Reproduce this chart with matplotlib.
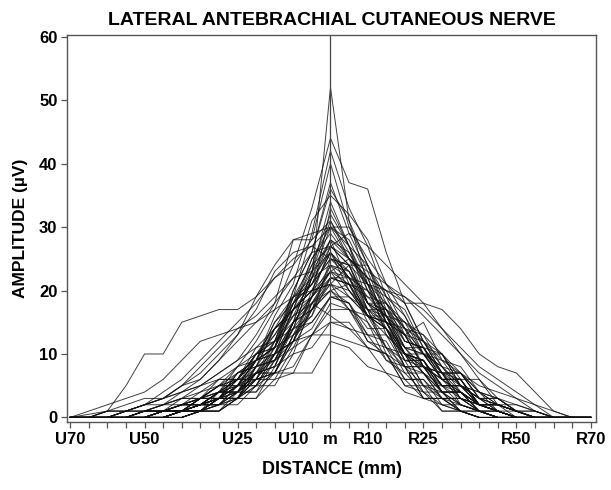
import numpy as np
import matplotlib
matplotlib.use("Agg")
import matplotlib.pyplot as plt

plt.rcParams['font.family'] = ['Liberation Sans', 'DejaVu Sans']
plt.rcParams['font.weight'] = 'bold'

# recording sites, mm from the midpoint (negative = ulnar side)
distance_mm = list(range(-70, 75, 5))

tick_pos = [-70, -50, -25, -10, 0, 10, 25, 50, 70]
tick_names = ['U70', 'U50', 'U25', 'U10', 'm', 'R10', 'R25', 'R50', 'R70']

# amplitude (uV) per subject at each site
amp_01 = [0, 0, 0, 0, 0, 0, 1, 2, 3, 5, 7, 10, 14, 22, 52, 31, 21, 15, 10, 7, 4, 2, 1, 0, 0, 0, 0, 0, 0]
amp_02 = [0, 0, 0, 0, 0, 1, 2, 3, 5, 8, 12, 17, 24, 33, 44, 37, 36, 26, 18, 12, 8, 5, 3, 1, 0, 0, 0, 0, 0]
amp_03 = [0, 0, 0, 0, 0, 1, 1, 3, 5, 7, 9, 15, 19, 29, 42, 33, 27, 19, 16, 10, 8, 4, 2, 1, 0, 0, 0, 0, 0]
amp_04 = [0, 0, 0, 0, 1, 2, 3, 5, 7, 9, 13, 18, 28, 28, 40, 30, 24, 18, 14, 10, 7, 5, 3, 2, 1, 0, 0, 0, 0]
amp_05 = [0, 0, 0, 0, 0, 1, 1, 2, 4, 6, 10, 12, 20, 26, 37, 29, 23, 16, 13, 8, 6, 4, 2, 1, 0, 0, 0, 0, 0]
amp_06 = [0, 0, 0, 0, 1, 1, 2, 3, 4, 7, 9, 16, 21, 31, 35, 32, 28, 21, 18, 12, 10, 5, 3, 1, 0, 0, 0, 0, 0]
amp_07 = [0, 0, 1, 5, 10, 10, 15, 16, 17, 17, 19, 22, 24, 28, 31, 25, 22, 20, 19, 17, 14, 11, 8, 6, 4, 2, 0, 0, 0]
amp_08 = [0, 0, 0, 0, 1, 1, 2, 4, 5, 6, 10, 12, 19, 21, 27, 25, 21, 20, 18, 18, 17, 14, 10, 8, 7, 4, 1, 0, 0]
amp_09 = [0, 0, 0, 0, 0, 0, 1, 1, 3, 4, 7, 8, 15, 19, 33, 27, 21, 13, 10, 5, 4, 1, 1, 0, 0, 0, 0, 0, 0]
amp_10 = [0, 0, 0, 1, 1, 2, 2, 3, 4, 6, 7, 12, 14, 22, 30, 25, 22, 15, 13, 8, 7, 3, 2, 1, 0, 0, 0, 0, 0]
amp_11 = [0, 0, 0, 0, 0, 0, 1, 1, 2, 3, 5, 7, 7, 7, 12, 11, 8, 7, 4, 3, 2, 1, 0, 0, 0, 0, 0, 0, 0]
amp_12 = [0, 0, 0, 0, 0, 1, 1, 2, 2, 4, 4, 7, 8, 13, 13, 12, 11, 7, 6, 3, 3, 1, 0, 0, 0, 0, 0, 0, 0]
amp_13 = [0, 0, 0, 0, 1, 1, 2, 3, 5, 6, 9, 10, 17, 20, 21, 24, 18, 17, 12, 11, 7, 7, 4, 3, 2, 1, 0, 0, 0]
amp_14 = [0, 0, 1, 1, 2, 3, 5, 8, 11, 14, 16, 19, 22, 23, 26, 22, 21, 16, 15, 10, 9, 5, 4, 2, 1, 0, 0, 0, 0]
amp_15 = [0, 0, 0, 0, 0, 1, 1, 2, 4, 4, 8, 9, 15, 17, 22, 21, 16, 15, 10, 10, 6, 6, 2, 1, 0, 0, 0, 0, 0]
amp_16 = [0, 0, 0, 0, 0, 0, 1, 2, 2, 5, 5, 10, 12, 18, 20, 17, 16, 11, 10, 5, 5, 2, 1, 0, 0, 0, 0, 0, 0]
amp_17 = [0, 0, 1, 1, 2, 3, 4, 5, 6, 8, 10, 13, 17, 21, 25, 24, 21, 18, 15, 12, 9, 7, 5, 4, 3, 2, 1, 0, 0]
amp_18 = [0, 0, 0, 0, 0, 0, 0, 1, 1, 3, 6, 7, 13, 17, 24, 20, 17, 10, 8, 3, 3, 1, 0, 0, 0, 0, 0, 0, 0]
amp_19 = [0, 0, 0, 0, 1, 1, 2, 2, 4, 5, 9, 11, 18, 22, 28, 26, 21, 19, 13, 12, 7, 7, 3, 2, 1, 0, 0, 0, 0]
amp_20 = [0, 0, 0, 0, 0, 1, 1, 3, 4, 8, 9, 15, 18, 25, 29, 25, 22, 15, 13, 8, 7, 3, 2, 1, 0, 0, 0, 0, 0]
amp_21 = [0, 0, 0, 0, 0, 0, 1, 1, 3, 3, 8, 10, 17, 20, 26, 23, 17, 15, 10, 9, 4, 4, 1, 0, 0, 0, 0, 0, 0]
amp_22 = [0, 0, 0, 0, 0, 1, 2, 2, 4, 4, 7, 7, 12, 14, 19, 18, 14, 14, 9, 9, 5, 5, 2, 1, 0, 0, 0, 0, 0]
amp_23 = [0, 0, 0, 1, 2, 3, 5, 6, 9, 12, 15, 18, 22, 26, 27, 24, 24, 19, 17, 11, 10, 5, 4, 1, 0, 0, 0, 0, 0]
amp_24 = [0, 0, 0, 0, 0, 0, 1, 1, 4, 4, 9, 11, 18, 21, 25, 24, 18, 16, 11, 10, 6, 6, 2, 2, 1, 0, 0, 0, 0]
amp_25 = [0, 0, 0, 0, 0, 0, 1, 2, 2, 5, 5, 10, 12, 19, 23, 19, 17, 11, 9, 4, 4, 1, 1, 0, 0, 0, 0, 0, 0]
amp_26 = [0, 0, 0, 1, 1, 2, 3, 4, 6, 6, 10, 11, 16, 18, 22, 21, 17, 17, 13, 15, 9, 8, 4, 3, 1, 1, 0, 0, 0]
amp_27 = [0, 0, 0, 0, 0, 0, 0, 1, 1, 3, 3, 8, 10, 18, 21, 17, 15, 9, 8, 3, 3, 1, 0, 0, 0, 0, 0, 0, 0]
amp_28 = [0, 0, 0, 0, 0, 1, 1, 3, 3, 7, 8, 14, 16, 22, 24, 23, 19, 18, 12, 11, 6, 6, 2, 1, 0, 0, 0, 0, 0]
amp_29 = [0, 0, 0, 0, 1, 1, 2, 2, 3, 4, 6, 7, 12, 13, 17, 17, 13, 13, 8, 8, 4, 4, 1, 1, 0, 0, 0, 0, 0]
amp_30 = [0, 0, 0, 1, 2, 3, 5, 7, 10, 13, 17, 23, 26, 27, 30, 28, 22, 20, 14, 12, 7, 6, 2, 2, 0, 0, 0, 0, 0]
amp_31 = [0, 0, 0, 0, 0, 0, 1, 2, 4, 5, 9, 11, 19, 24, 32, 27, 24, 17, 14, 8, 7, 2, 1, 0, 0, 0, 0, 0, 0]
amp_32 = [0, 0, 0, 0, 0, 1, 1, 2, 3, 3, 6, 7, 13, 15, 19, 18, 13, 12, 7, 7, 3, 3, 1, 1, 0, 0, 0, 0, 0]
amp_33 = [0, 0, 1, 1, 2, 2, 3, 3, 5, 5, 9, 10, 15, 17, 21, 20, 16, 15, 11, 11, 7, 7, 3, 3, 1, 0, 0, 0, 0]
amp_34 = [0, 0.5, 1, 2, 3, 3, 4, 5, 7, 9, 11, 14, 17, 20, 23, 21, 19, 16, 13, 10, 8, 5, 3, 2, 1, 0, 0, 0, 0]
amp_35 = [0, 0, 0, 0, 0, 0, 0, 1, 1, 3, 3, 6, 7, 13, 15, 15, 11, 10, 5, 5, 1, 1, 0, 0, 0, 0, 0, 0, 0]
amp_36 = [0, 0, 0, 0, 0, 1, 1, 3, 3, 5, 6, 10, 12, 20, 26, 22, 20, 15, 14, 10, 10, 6, 6, 2, 2, 1, 0, 0, 0]
amp_37 = [0, 0, 0, 0, 0, 0, 1, 1, 3, 3, 8, 9, 15, 18, 23, 22, 17, 16, 10, 9, 4, 4, 1, 0, 0, 0, 0, 0, 0]
amp_38 = [0, 0, 0, 1, 1, 1, 2, 3, 5, 5, 10, 11, 17, 19, 24, 22, 16, 14, 9, 9, 5, 5, 2, 2, 1, 0, 0, 0, 0]
amp_39 = [0, 0, 0, 0, 0, 0, 0, 1, 1, 4, 4, 9, 11, 17, 20, 18, 12, 10, 5, 4, 1, 1, 0, 0, 0, 0, 0, 0, 0]
amp_40 = [0, 0, 0, 0, 1, 1, 3, 3, 6, 6, 11, 12, 18, 21, 28, 25, 18, 16, 10, 9, 5, 5, 2, 2, 1, 0, 0, 0, 0]
amp_41 = [0, 0, 0, 0, 0, 0, 1, 1, 3, 3, 7, 8, 15, 19, 27, 24, 17, 14, 8, 7, 3, 3, 1, 0, 0, 0, 0, 0, 0]
amp_42 = [0, 0, 0, 0, 0, 1, 1, 3, 3, 6, 6, 11, 13, 19, 22, 22, 18, 18, 14, 13, 8, 7, 3, 3, 1, 0, 0, 0, 0]
amp_43 = [0, 0, 0, 0, 0, 0, 1, 1, 3, 3, 6, 6, 11, 13, 18, 17, 12, 11, 6, 6, 2, 2, 1, 0, 0, 0, 0, 0, 0]
amp_44 = [0, 1, 2, 3, 4, 6, 9, 12, 13, 14, 15, 17, 19, 20, 21, 19, 16, 13, 10, 8, 6, 4, 2, 1, 0, 0, 0, 0, 0]
amp_45 = [0, 0, 0, 0, 0, 1, 1, 3, 3, 7, 8, 14, 17, 25, 30, 27, 20, 17, 11, 10, 6, 6, 2, 2, 1, 1, 0, 0, 0]
amp_46 = [0, 0, 0, 0, 0, 0, 1, 1, 3, 3, 7, 8, 14, 16, 22, 21, 16, 15, 10, 9, 5, 5, 2, 2, 1, 0, 0, 0, 0]
amp_47 = [0, 0, 0, 0, 1, 1, 2, 2, 4, 4, 8, 9, 14, 15, 19, 19, 16, 16, 12, 11, 6, 6, 2, 1, 0, 0, 0, 0, 0]
amp_48 = [0, 0, 0, 0, 0, 1, 1, 2, 3, 6, 6, 12, 15, 23, 34, 27, 18, 15, 9, 8, 4, 4, 1, 0, 0, 0, 0, 0, 0]
amp_49 = [0, 0, 0, 0, 0, 0, 1, 1, 2, 2, 5, 5, 10, 11, 15, 14, 11, 10, 6, 6, 3, 3, 1, 1, 0, 0, 0, 0, 0]
amp_50 = [0, 0, 0, 0, 0, 1, 1, 3, 3, 4, 7, 7, 13, 16, 25, 22, 16, 14, 8, 8, 4, 4, 2, 1, 0, 0, 0, 0, 0]
amp_51 = [0, 0, 0, 0, 0, 0, 0, 1, 2, 4, 7, 11, 20, 26, 36, 31, 24, 16, 11, 7, 4, 2, 1, 0, 0, 0, 0, 0, 0]
amp_52 = [0, 0, 0, 0, 1, 2, 4, 6, 9, 13, 19, 24, 28, 29, 30, 30, 25, 21, 16, 11, 7, 4, 2, 1, 0, 0, 0, 0, 0]
amp_53 = [0, 0, 0, 0, 0, 0, 1, 2, 3, 6, 10, 14, 17, 24, 27, 29, 27, 24, 21, 18, 14, 10, 6, 3, 1, 0, 0, 0, 0]
amp_54 = [0, 0, 0, 0, 0, 0, 0, 1, 2, 3, 5, 9, 14, 18, 16, 14, 13, 9, 7, 4, 2, 1, 0, 0, 0, 0, 0, 0, 0]
amp_55 = [0, 0, 0, 1, 2, 4, 6, 9, 12, 15, 18, 22, 25, 27, 25, 23, 18, 14, 10, 7, 5, 3, 2, 1, 0, 0, 0, 0, 0]
amp_56 = [0, 0, 0, 0, 0, 0, 1, 2, 2, 4, 6, 10, 15, 23, 31, 26, 20, 14, 11, 8, 5, 4, 2, 1, 1, 0, 0, 0, 0]
amp_57 = [0, 0, 0, 0, 0, 1, 1, 2, 4, 6, 9, 14, 19, 22, 26, 20, 16, 14, 10, 8, 6, 3, 2, 1, 0, 0, 0, 0, 0]
amp_58 = [0, 0, 0, 0, 0, 0, 1, 2, 3, 5, 8, 12, 16, 19, 23, 25, 23, 21, 19, 16, 13, 10, 7, 5, 3, 1, 0, 0, 0]
amp_59 = [0, 0, 0, 0, 0, 1, 2, 2, 3, 5, 7, 9, 12, 17, 20, 21, 20, 17, 15, 13, 10, 7, 4, 2, 1, 0, 0, 0, 0]
amp_60 = [0, 0, 0, 0, 0, 0, 0, 1, 3, 5, 9, 13, 18, 23, 28, 21, 15, 11, 8, 5, 3, 2, 1, 0, 0, 0, 0, 0, 0]

subjects = [amp_01, amp_02, amp_03, amp_04, amp_05, amp_06, amp_07, amp_08, amp_09, amp_10,
            amp_11, amp_12, amp_13, amp_14, amp_15, amp_16, amp_17, amp_18, amp_19, amp_20,
            amp_21, amp_22, amp_23, amp_24, amp_25, amp_26, amp_27, amp_28, amp_29, amp_30,
            amp_31, amp_32, amp_33, amp_34, amp_35, amp_36, amp_37, amp_38, amp_39, amp_40,
            amp_41, amp_42, amp_43, amp_44, amp_45, amp_46, amp_47, amp_48, amp_49, amp_50,
            amp_51, amp_52, amp_53, amp_54, amp_55, amp_56, amp_57, amp_58, amp_59, amp_60]

fig = plt.figure(figsize=(6.11, 4.90), dpi=100)
ax = fig.add_axes([0.110, 0.139, 0.866, 0.790])

for amp in subjects:
    ax.plot(distance_mm, amp, color='#111111', lw=0.7, alpha=0.8)

# midpoint marker
ax.axvline(0, color='#444444', lw=0.9)

ax.set_xlim(-70.8, 71.5)
ax.set_ylim(-0.7, 60.3)

ax.set_xticks(distance_mm)
ax.set_xticklabels([tick_names[tick_pos.index(d)] if d in tick_pos else '' for d in distance_mm])
ax.set_yticks(range(0, 70, 10))

ax.tick_params(axis='both', direction='out', length=4, width=0.9, color='#555555',
               labelsize=12, pad=3)
for s in ax.spines.values():
    s.set_color('#555555')
    s.set_linewidth(1.0)

ax.set_title('LATERAL ANTEBRACHIAL CUTANEOUS NERVE', fontsize=14, fontweight='bold', pad=7)
ax.set_xlabel('DISTANCE (mm)', fontsize=13, fontweight='bold', labelpad=10)
ax.set_ylabel('AMPLITUDE (\u00b5V)', fontsize=12.5, fontweight='bold', labelpad=8)

fig.savefig('out.png', dpi=100)
